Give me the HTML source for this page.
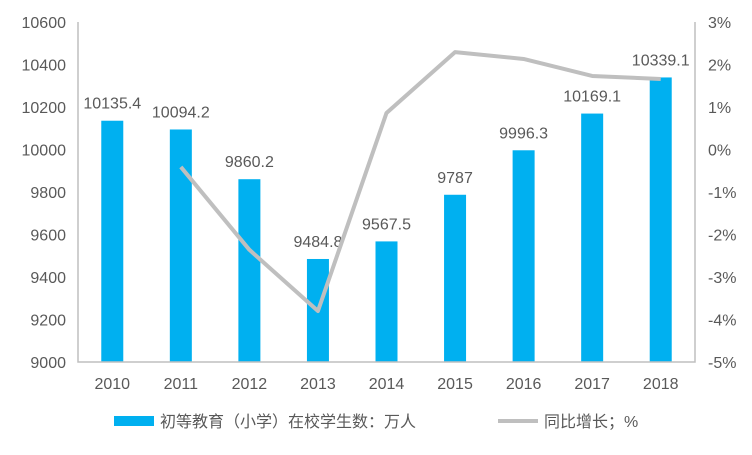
<!DOCTYPE html>
<html><head><meta charset="utf-8"><style>
body{margin:0;background:#fff;}
svg text{font-family:"Liberation Sans","Noto Sans CJK SC",sans-serif;fill:#595959;}
</style></head><body>
<svg width="752" height="450">
<g id="g"></g>
</svg>
<script>
const categories=["2010","2011","2012","2013","2014","2015","2016","2017","2018"];
const enrollment=[10135.4,10094.2,9860.2,9484.8,9567.5,9787,9996.3,10169.1,10339.1];
const growth=[null,-0.41,-2.36,-3.8,0.86,2.29,2.13,1.73,1.66];
const leftTicks=[9000,9200,9400,9600,9800,10000,10200,10400,10600];
const rightTicks=[-5,-4,-3,-2,-1,0,1,2,3];
const X0=78,X1=695,Y0=362,Y1=22;
const band=(X1-X0)/categories.length;
const xc=i=>X0+band*(i+0.5);
const yL=v=>Y0-(v-9000)/1600*(Y0-Y1);
const yR=v=>Y0-(v+5)/8*(Y0-Y1);
const g=document.getElementById('g');
const NS='http://www.w3.org/2000/svg';
function mk(t,a,txt){const e=document.createElementNS(NS,t);for(const k in a)e.setAttribute(k,a[k]);if(txt!=null)e.textContent=txt;g.appendChild(e);return e;}
leftTicks.forEach(v=>{const e=mk('text',{x:66,y:yL(v)+6,'text-anchor':'end','font-size':16},v);

});
rightTicks.forEach(v=>{const e=mk('text',{x:708,y:yR(v)+6,'font-size':16},v+'%');

});
enrollment.forEach((v,i)=>{const b=mk('rect',{x:xc(i)-11,y:yL(v),width:22,height:Y0-yL(v),fill:'#00b0f0'});


const t=mk('text',{x:xc(i),y:yL(v)-12,'text-anchor':'middle','font-size':16},String(v));


const c=mk('text',{x:xc(i),y:389,'text-anchor':'middle','font-size':16},categories[i]);

});
const ax=mk('path',{d:`M${X0} ${Y1}V${Y0}H${X1}V${Y1}`,fill:'none',stroke:'#bfbfbf','stroke-width':1.5});


let d='';growth.forEach((v,i)=>{if(v==null)return;d+=(d?'L':'M')+xc(i)+' '+yR(v);});
const ln=mk('path',{d:d,fill:'none',stroke:'#bfbfbf','stroke-width':4,'stroke-linejoin':'round'});


const l1=mk('rect',{x:114,y:416,width:40,height:10,fill:'#00b0f0'});


const l2=mk('text',{x:160,y:427,'font-size':16},'初等教育（小学）在校学生数：万人');


const l3=mk('line',{x1:498,y1:421,x2:538,y2:421,stroke:'#bfbfbf','stroke-width':4});


const l4=mk('text',{x:544,y:427,'font-size':16},'同比增长；%');


</script>
</body></html>
